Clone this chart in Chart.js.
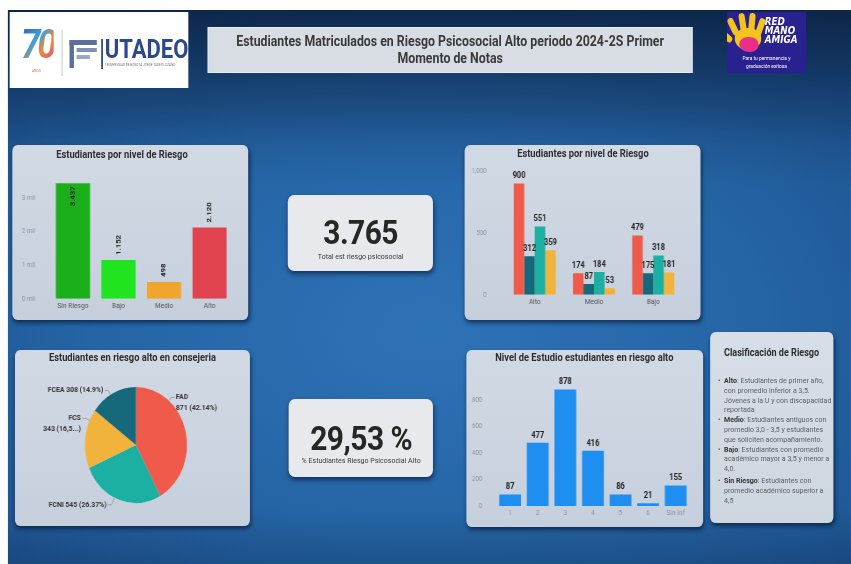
<!DOCTYPE html>
<html>
<head>
<meta charset="utf-8">
<title>Estudiantes en Riesgo Psicosocial</title>
<script src="https://cdn.jsdelivr.net/npm/chart.js@4.4.1/dist/chart.umd.min.js"></script>
<style>
  html, body { margin: 0; padding: 0; }
  body { width: 851px; height: 564px; overflow: hidden; background: #fff; position: relative;
         font-family: Roboto, "DejaVu Sans", sans-serif; }
  /* the whole board is drawn a bit wider and squeezed, like the screenshot */
  #root { position: absolute; left: 0; top: 0; width: 967px; height: 564px;
          transform: scaleX(0.88); transform-origin: 0 0; }
  #bg { position: absolute; left: 9px; top: 10px; right: 0; bottom: 0;
        background:
          linear-gradient(to bottom, rgba(8,24,52,.75) 0%, rgba(8,24,52,.45) 12%, rgba(8,24,52,.1) 24%, rgba(8,24,52,0) 32%, rgba(8,24,52,0) 90%, rgba(8,24,52,.2) 100%),
          radial-gradient(ellipse 85% 80% at 50% 58%, #2e72b6 0%, #2565a6 45%, #1d5490 80%, #184a82 100%); }
  .box { position: absolute; }
  .panel { background: linear-gradient(#d1d9e4, #c6d0dc); border-radius: 6px;
           box-shadow: 1px 3px 5px rgba(0,8,30,.55); }
  .ptitle { position: absolute; left: 0; right: 0; text-align: center; font-weight: bold;
            font-size: 10.6px; line-height: 12px; color: #2e2e2e; }
  .kpi { background: #e8e9ec; border-radius: 7px; box-shadow: 1px 3px 6px rgba(0,8,30,.55); color: #262626; }
  .kpi .num { position: absolute; left: 0; right: 0; text-align: center; font-weight: bold;
              font-size: 34px; line-height: 35px; letter-spacing: -0.6px; }
  .kpi .sub { position: absolute; left: 0; right: 0; text-align: center; font-size: 8px;
              line-height: 9px; color: #3a3a3a; }
  canvas { position: absolute; left: 0; top: 0; }
  #legend5 { font-size: 8px; line-height: 9.8px; color: #5a5f66; white-space: nowrap; }
  #legend5 .it { position: relative; padding-left: 16px; }
  #legend5 .it span.b { position: absolute; left: 9px; top: 0; color: #444; }
  #legend5 b { color: #333; }
  .finger { position: absolute; width: 7px; height: 19px; border-radius: 4px; background: #f6c21c; transform-origin: 50% 100%; }
</style>
</head>
<body>
<div id="root">
  <div id="bg"></div>

  <!-- UTADEO logo -->
  <div class="box" style="left:11px;top:12px;width:203px;height:76px;background:#fff;">
    <div style="position:absolute;left:13px;top:13px;font:italic bold 40px/40px Roboto,sans-serif;letter-spacing:-4px;
                background:linear-gradient(135deg,#2b5fb8 0%,#3aa0d8 40%,#f08a3a 65%,#d8408a 100%);
                -webkit-background-clip:text;background-clip:text;color:transparent;">70</div>
    <div style="position:absolute;left:25px;top:56px;font-size:4px;color:#c98040;">AÑOS</div>
    <div style="position:absolute;left:59px;top:18px;width:1px;height:46px;background:#bdbdbd;"></div>
    <div style="position:absolute;left:68px;top:28px;width:5px;height:28px;background:#5b6f98;"></div>
    <div style="position:absolute;left:68px;top:28px;width:31px;height:5px;background:#5b6f98;"></div>
    <div style="position:absolute;left:76px;top:36px;width:23px;height:4px;background:#7f90b3;"></div>
    <div style="position:absolute;left:76px;top:43px;width:15px;height:4px;background:#9aa8c6;"></div>
    <div style="position:absolute;left:104px;top:27px;width:2px;height:30px;background:#2a4a8a;"></div>
    <div style="position:absolute;left:108px;top:24px;font:bold 25px/28px Roboto,sans-serif;color:#2a4a8c;">UTADEO</div>
    <div style="position:absolute;left:109px;top:51px;font-size:3.5px;color:#777;">UNIVERSIDAD DE BOGOTÁ JORGE TADEO LOZANO</div>
  </div>

  <!-- title -->
  <div class="box" style="left:236px;top:27px;width:551px;height:46px;background:#d8dde4;border:1px solid #e9edf1;box-sizing:border-box;
       text-align:center;font-weight:bold;font-size:14px;line-height:17px;color:#3a3a3a;padding-top:5px;">
    Estudiantes Matriculados en Riesgo Psicosocial Alto periodo 2024-2S Primer<br>Momento de Notas
  </div>

  <!-- Red Mano Amiga logo -->
  <div class="box" style="left:826px;top:12px;width:90px;height:61px;background:#2a2191;overflow:hidden;">
    <div style="position:absolute;left:9px;top:16px;width:30px;height:22px;border-radius:45% 45% 50% 50%;background:#f6c21c;"></div>
    <div class="finger" style="left:8px;top:4px;transform:rotate(-28deg);"></div>
    <div class="finger" style="left:16px;top:1px;transform:rotate(-10deg);"></div>
    <div class="finger" style="left:24px;top:1px;transform:rotate(6deg);"></div>
    <div class="finger" style="left:31px;top:5px;transform:rotate(22deg);"></div>
    <div class="finger" style="left:2px;top:16px;height:13px;transform:rotate(-55deg);"></div>
    <div style="position:absolute;left:14px;top:25px;width:22px;height:15px;border-radius:50% 50% 45% 55%;background:#e8308a;"></div>
    <div style="position:absolute;left:43px;top:5px;font:italic 900 10px/9px 'DejaVu Sans',sans-serif;color:#fff;">RED<br>MANO<br>AMIGA</div>
    <div style="position:absolute;left:0;right:0;top:42px;text-align:center;font-size:5.5px;line-height:8px;color:#fff;">Para tu permanencia y<br>graduación exitosa</div>
  </div>

  <!-- panel 1 -->
  <div class="box panel" style="left:13.6px;top:145px;width:268px;height:175px;">
    <canvas id="c1" width="268" height="175"></canvas>
    <div class="ptitle" style="top:4px;right:18px;">Estudiantes por nivel de Riesgo</div>
  </div>

  <!-- panel 2 -->
  <div class="box panel" style="left:528.4px;top:145px;width:268px;height:175px;">
    <canvas id="c2" width="268" height="175"></canvas>
    <div class="ptitle" style="top:3px;">Estudiantes por nivel de Riesgo</div>
  </div>

  <!-- KPI 1 -->
  <div class="box kpi" style="left:327.3px;top:195px;width:165px;height:76px;">
    <div class="num" id="kpi1" style="top:20px;"></div>
    <div class="sub" style="top:57px;">Total est riesgo psicosocial</div>
  </div>

  <!-- panel 3 -->
  <div class="box panel" style="left:17px;top:350px;width:267px;height:176px;">
    <canvas id="c3" width="267" height="176"></canvas>
    <div class="ptitle" style="top:2px;">Estudiantes en riesgo alto en consejeria</div>
  </div>

  <!-- KPI 2 -->
  <div class="box kpi" style="left:328.4px;top:399px;width:164px;height:78px;">
    <div class="num" id="kpi2" style="top:22px;"></div>
    <div class="sub" style="top:57px;">% Estudiantes Riesgo Psicosocial Alto</div>
  </div>

  <!-- panel 4 -->
  <div class="box panel" style="left:529.5px;top:350px;width:269px;height:177px;">
    <canvas id="c4" width="269" height="177"></canvas>
    <div class="ptitle" style="top:2px;">Nivel de Estudio estudiantes en riesgo alto</div>
  </div>

  <!-- panel 5 -->
  <div class="box panel" style="left:806.8px;top:332px;width:140px;height:191px;background:linear-gradient(#d8dee7,#ced6e0);">
    <div class="ptitle" style="top:15px;font-size:10.3px;">Clasificación de Riesgo</div>
    <div id="legend5" style="position:absolute;left:0;top:44px;">
      <div class="it"><span class="b">•</span><b>Alto</b>: Estudiantes de primer año,<br>con promedio inferior a 3,5.<br>Jóvenes a la U y con discapacidad<br>reportada</div>
      <div class="it"><span class="b">•</span><b>Medio</b>: Estudiantes antiguos con<br>promedio 3,0 - 3,5 y estudiantes<br>que soliciten acompañamiento.</div>
      <div class="it"><span class="b">•</span><b>Bajo</b>: Estudiantes con promedio<br>académico mayor a 3,5 y menor a<br>4,0.</div>
      <div class="it" style="margin-top:2px;"><span class="b">•</span><b>Sin Riesgo</b>: Estudiantes con<br>promedio académico superior a<br>4,5</div>
    </div>
  </div>
</div>

<script>
// data
const riskLabels = ["Sin Riesgo", "Bajo", "Medio", "Alto"];
const riskValues = [3437, 1152, 498, 2120];
const riskTicks = [0, 1000, 2000, 3000];

const groupLabels = ["Alto", "Medio", "Bajo"];
const groupRed = [900, 174, 479];
const groupDark = [312, 87, 175];
const groupTeal = [551, 184, 318];
const groupGold = [359, 53, 181];
const groupTicks = [0, 500, 1000];

const pieLabels = ["FAD", "FCNI", "FCS", "FCEA"];
const pieValues = [871, 545, 343, 308];

const levelLabels = ["1", "2", "3", "4", "5", "6", "Sin Inf"];
const levelValues = [87, 477, 878, 416, 86, 21, 155];
const levelTicks = [0, 200, 400, 600, 800];

const kpiTotal = "3.765";
const kpiPercent = "29,53 %";

// colours
const RED = "#f05a4b", DARK = "#16697a", TEAL = "#1cb0a3", GOLD = "#f2b33d";
const riskColors = ["#1bb01b", "#1fe41f", "#f0a52c", "#e0434e"];

const FONT = 'Roboto, "DejaVu Sans", sans-serif';
Chart.defaults.font.family = FONT;
Chart.defaults.animation = false;
Chart.defaults.plugins.legend.display = false;
Chart.defaults.plugins.tooltip.enabled = false;

document.getElementById("kpi1").textContent = kpiTotal;
document.getElementById("kpi2").textContent = kpiPercent;

function dots(v) { return String(v).replace(/\B(?=(\d{3})+(?!\d))/g, "."); }
function commas(v) { return String(v).replace(/\B(?=(\d{3})+(?!\d))/g, ","); }

// numbers over the bars
function valueLabels(cfg) {
  return {
    id: "valueLabels",
    afterDatasetsDraw(chart) {
      const ctx = chart.ctx;
      ctx.save();
      ctx.font = cfg.font;
      ctx.fillStyle = cfg.color;
      chart.data.datasets.forEach((ds, i) => {
        chart.getDatasetMeta(i).data.forEach((bar, j) => {
          const txt = cfg.format(ds.data[j]);
          if (cfg.vertical) {
            const w = ctx.measureText(txt).width;
            const inside = bar.y - w - cfg.gap < chart.chartArea.top;
            ctx.save();
            ctx.translate(bar.x, bar.y);
            ctx.rotate(-Math.PI / 2);
            ctx.textBaseline = "middle";
            ctx.textAlign = inside ? "right" : "left";
            ctx.fillText(txt, inside ? -3 : cfg.gap, 0);
            ctx.restore();
          } else {
            ctx.textAlign = "center";
            ctx.textBaseline = "bottom";
            ctx.fillText(txt, bar.x, bar.y - cfg.gap);
          }
        });
      });
      ctx.restore();
    }
  };
}

// outside labels of the pie with leader lines
function pieCallouts(cfg) {
  return {
    id: "pieCallouts",
    afterDatasetsDraw(chart) {
      const ctx = chart.ctx;
      ctx.save();
      ctx.font = cfg.font;
      ctx.fillStyle = cfg.color;
      ctx.strokeStyle = cfg.lineColor;
      ctx.lineWidth = 0.8;
      ctx.textBaseline = "middle";
      chart.getDatasetMeta(0).data.forEach((arc, i) => {
        const s = cfg.slices[i];
        const a = s.angle * Math.PI / 180;
        const r = arc.outerRadius;
        const x0 = arc.x + Math.cos(a) * r, y0 = arc.y + Math.sin(a) * r;
        const x1 = x0 + Math.cos(a) * s.len, y1 = y0 + Math.sin(a) * s.len;
        const dir = Math.cos(a) >= 0 ? 1 : -1;
        const x2 = x1 + dir * 4;
        ctx.beginPath();
        ctx.moveTo(x0, y0);
        ctx.lineTo(x1, y1);
        ctx.lineTo(x2, y1);
        ctx.stroke();
        ctx.textAlign = dir > 0 ? "left" : "right";
        cfg.text[i].forEach((line, k) => ctx.fillText(line, x2 + dir * 1.5, y1 + k * 11));
      });
      ctx.restore();
    }
  };
}

function fixedTicks(list) {
  return function (scale) { scale.ticks = list.map(v => ({ value: v })); };
}
const noGrid = { display: false, drawTicks: false };
const tickGray = "#8e959e";

// chart 1
new Chart(document.getElementById("c1"), {
  type: "bar",
  data: {
    labels: riskLabels,
    datasets: [{ data: riskValues, backgroundColor: riskColors, barPercentage: 0.75, categoryPercentage: 1 }]
  },
  options: {
    responsive: false,
    layout: { padding: { top: 26, right: 18, left: 0, bottom: 0 } },
    scales: {
      x: { grid: noGrid, border: { display: false },
           ticks: { color: "#555", font: { size: 7.5 }, padding: 3 },
           afterFit(s) { s.height = 19; } },
      y: { min: 0, max: 3800, grid: noGrid, border: { display: false },
           afterBuildTicks: fixedTicks(riskTicks),
           ticks: { color: tickGray, font: { size: 7 }, padding: 17, callback: v => (v / 1000) + " mil" },
           afterFit(s) { s.width = 43; } }
    }
  },
  plugins: [valueLabels({ font: "bold 7.8px " + FONT, color: "#222", gap: 5, vertical: true, format: dots })]
});

// chart 2
new Chart(document.getElementById("c2"), {
  type: "bar",
  data: {
    labels: groupLabels,
    datasets: [
      { data: groupRed, backgroundColor: RED },
      { data: groupDark, backgroundColor: DARK },
      { data: groupTeal, backgroundColor: TEAL },
      { data: groupGold, backgroundColor: GOLD }
    ].map(d => Object.assign(d, { barPercentage: 1, categoryPercentage: 0.71 }))
  },
  options: {
    responsive: false,
    layout: { padding: { top: 26, right: 20, left: 0, bottom: 0 } },
    scales: {
      x: { grid: noGrid, border: { display: false },
           ticks: { color: "#555", font: { size: 7.5 }, padding: 3 },
           afterFit(s) { s.height = 19; } },
      y: { min: 0, max: 1000, grid: noGrid, border: { display: false },
           afterBuildTicks: fixedTicks(groupTicks),
           ticks: { color: tickGray, font: { size: 7 }, padding: 21, callback: v => commas(v) },
           afterFit(s) { s.width = 46; } }
    }
  },
  plugins: [valueLabels({ font: "bold 8.5px " + FONT, color: "#222", gap: 3, format: String })]
});

// chart 3
const pieTotal = pieValues.reduce((a, b) => a + b, 0);
function pieShare(v) { return Math.round(v / pieTotal * 10000) / 100; }
const pieText = [
  [pieLabels[0], pieValues[0] + " (" + pieShare(pieValues[0]) + "%)"],
  [pieLabels[1] + " " + pieValues[1] + " (" + pieShare(pieValues[1]) + "%)"],
  [pieLabels[2], pieValues[2] + " (" + String(pieShare(pieValues[2])).slice(0, 4).replace(".", ",") + "...)"],
  [pieLabels[3] + " " + pieValues[3] + " (" + pieShare(pieValues[3]) + "%)"]
];

new Chart(document.getElementById("c3"), {
  type: "pie",
  data: {
    labels: pieLabels,
    datasets: [{ data: pieValues, backgroundColor: [RED, TEAL, GOLD, DARK], borderWidth: 0 }]
  },
  options: {
    responsive: false,
    layout: { padding: { left: 79.5, right: 71.5, top: 37, bottom: 23 } }
  },
  plugins: [pieCallouts({
    font: "bold 7.8px " + FONT, color: "#333", lineColor: "#8a929c", text: pieText,
    slices: [{ angle: -50, len: 4 }, { angle: 115, len: 8 }, { angle: 205, len: 5 }, { angle: 240, len: 5 }]
  })]
});

// chart 4
new Chart(document.getElementById("c4"), {
  type: "bar",
  data: {
    labels: levelLabels,
    datasets: [{ data: levelValues, backgroundColor: "#1e8ef0", barPercentage: 0.79, categoryPercentage: 1 }]
  },
  options: {
    responsive: false,
    layout: { padding: { top: 30, right: 15.5, left: 0, bottom: 0 } },
    scales: {
      x: { grid: noGrid, border: { display: false },
           ticks: { color: tickGray, font: { size: 7.5 }, padding: 3 },
           afterFit(s) { s.height = 21; } },
      y: { min: 0, max: 950, grid: noGrid, border: { display: false },
           afterBuildTicks: fixedTicks(levelTicks),
           ticks: { color: tickGray, font: { size: 7 }, padding: 16 },
           afterFit(s) { s.width = 34; } }
    }
  },
  plugins: [valueLabels({ font: "bold 8.5px " + FONT, color: "#222", gap: 3, format: String })]
});
</script>
</body>
</html>
